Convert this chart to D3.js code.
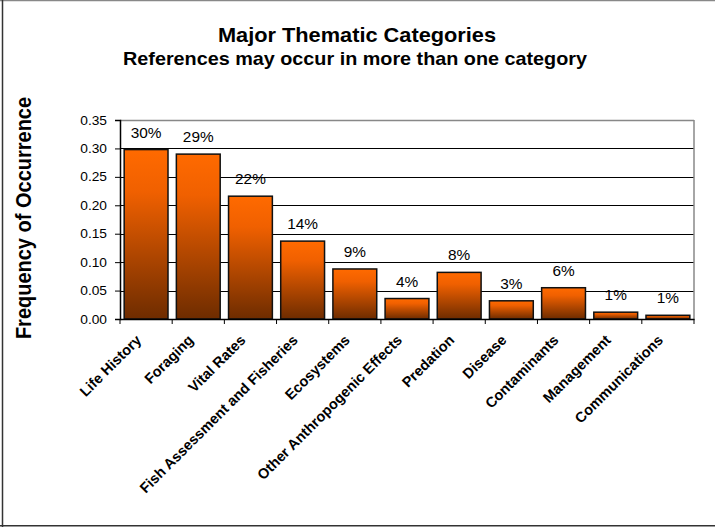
<!DOCTYPE html>
<html><head><meta charset="utf-8">
<script src="https://cdn.jsdelivr.net/npm/d3@7"></script>
<style>body{margin:0;background:#fff}svg{display:block}text{font-family:Arial,"Liberation Sans",sans-serif}</style>
</head><body>
<svg id="c" width="715" height="527"></svg>
<script>
const categories = ["Life History","Foraging","Vital Rates","Fish Assessment and Fisheries","Ecosystems","Other Anthropogenic Effects","Predation","Disease","Contaminants","Management","Communications"];
const values = [0.298,0.290,0.216,0.137,0.088,0.036,0.082,0.032,0.055,0.012,0.0065];
const pctLabels = ["30%","29%","22%","14%","9%","4%","8%","3%","6%","1%","1%"];
const yTicks = [0,0.05,0.10,0.15,0.20,0.25,0.30,0.35];

const SX = 1.1;
const svg = d3.select("#c");
const L=120,R=694,T=120,B=319;
const x = d3.scaleBand().domain(categories).range([L,R]).paddingInner(0.16).paddingOuter(0.08);
const xc = d3.scaleBand().domain(categories).range([L,R]);
const y = d3.scaleLinear().domain([0,0.35]).range([B,T]);

// outer border
svg.append("line").attr("x1",0).attr("x2",715).attr("y1",0.5).attr("y2",0.5).attr("stroke","#888").attr("stroke-width",1.5);
svg.append("line").attr("x1",2.5).attr("x2",2.5).attr("y1",0).attr("y2",527).attr("stroke","#333").attr("stroke-width",1.5);
svg.append("line").attr("x1",0).attr("x2",715).attr("y1",525.8).attr("y2",525.8).attr("stroke","#333").attr("stroke-width",1.5);

const defs = svg.append("defs");
const g = defs.append("linearGradient").attr("id","bg").attr("x1",0).attr("y1",0).attr("x2",0).attr("y2",1);
g.append("stop").attr("offset","0%").attr("stop-color","#ff6a00");
g.append("stop").attr("offset","25%").attr("stop-color","#f06000");
g.append("stop").attr("offset","100%").attr("stop-color","#6e2c00");

// gridlines
svg.append("g").selectAll("line").data(yTicks.filter(d=>d>0 && d<0.35)).join("line")
  .attr("x1",L).attr("x2",R).attr("y1",d=>Math.round(y(d))+0.5).attr("y2",d=>Math.round(y(d))+0.5)
  .attr("stroke","#000").attr("stroke-width",1);
// plot border top/right
svg.append("line").attr("x1",L).attr("x2",R).attr("y1",T+0.5).attr("y2",T+0.5).attr("stroke","#888").attr("stroke-width",1.5);
svg.append("line").attr("x1",R).attr("x2",R).attr("y1",T).attr("y2",B).attr("stroke","#888").attr("stroke-width",1.5);

// bars
svg.append("g").selectAll("rect").data(categories).join("rect")
  .attr("x",d=>x(d)).attr("width",x.bandwidth())
  .attr("y",(d,i)=>y(values[i])).attr("height",(d,i)=>B-y(values[i]))
  .attr("fill","url(#bg)").attr("stroke","#111").attr("stroke-width",1.5);

// value labels
svg.append("g").selectAll("text").data(categories).join("text")
  .attr("transform",(d,i)=>`translate(${x(d)+x.bandwidth()/2},${y(values[i])-12}) scale(${SX},1)`)
  .attr("text-anchor","middle").attr("font-size",14).attr("fill","#000")
  .text((d,i)=>pctLabels[i]);

// y axis
const ya = svg.append("g").attr("transform",`translate(${L},0)`)
  .call(d3.axisLeft(y).tickValues(yTicks).tickFormat(d3.format(".2f")).tickSize(5).tickPadding(8));
ya.select(".domain").attr("stroke","#000").attr("stroke-width",1.5);
ya.selectAll(".tick line").attr("stroke","#000");
ya.selectAll(".tick text").each(function(){
  const t=d3.select(this); const xx=+t.attr("x");
  t.attr("x",null).attr("transform",`translate(${xx},0) scale(${SX},1)`);
}).attr("font-size",12.5).attr("fill","#000").attr("font-family","Arial,'Liberation Sans',sans-serif");

// x axis
const xa = svg.append("g").attr("transform",`translate(0,${B})`)
  .call(d3.axisBottom(xc).tickSize(0).tickFormat(""));
xa.select(".domain").attr("stroke","#000").attr("stroke-width",1.5);
svg.append("g").selectAll("line").data(categories.concat(["_end"])).join("line")
  .attr("x1",(d,i)=>L+i*xc.step()).attr("x2",(d,i)=>L+i*xc.step())
  .attr("y1",B).attr("y2",B+5).attr("stroke","#000");
svg.append("g").selectAll("text").data(categories).join("text")
  .attr("transform",d=>`translate(${xc(d)+xc.bandwidth()/2-4},${B+22}) rotate(-45)`)
  .attr("text-anchor","end").attr("font-size",14.5).attr("font-weight","bold").attr("fill","#000")
  .text(d=>d);

// axis title
svg.append("text").attr("transform",`translate(31,218) scale(${SX},1) rotate(-90)`).attr("text-anchor","middle")
  .attr("font-size",20).attr("font-weight","bold").text("Frequency of Occurrence");

// titles
svg.append("text").attr("transform",`translate(357,42) scale(${SX},1)`).attr("text-anchor","middle").attr("font-size",19.8).attr("font-weight","bold").text("Major Thematic Categories");
svg.append("text").attr("transform",`translate(355,64.5) scale(${SX},1)`).attr("text-anchor","middle").attr("font-size",18).attr("font-weight","bold").text("References may occur in more than one category");
</script>
</body></html>
